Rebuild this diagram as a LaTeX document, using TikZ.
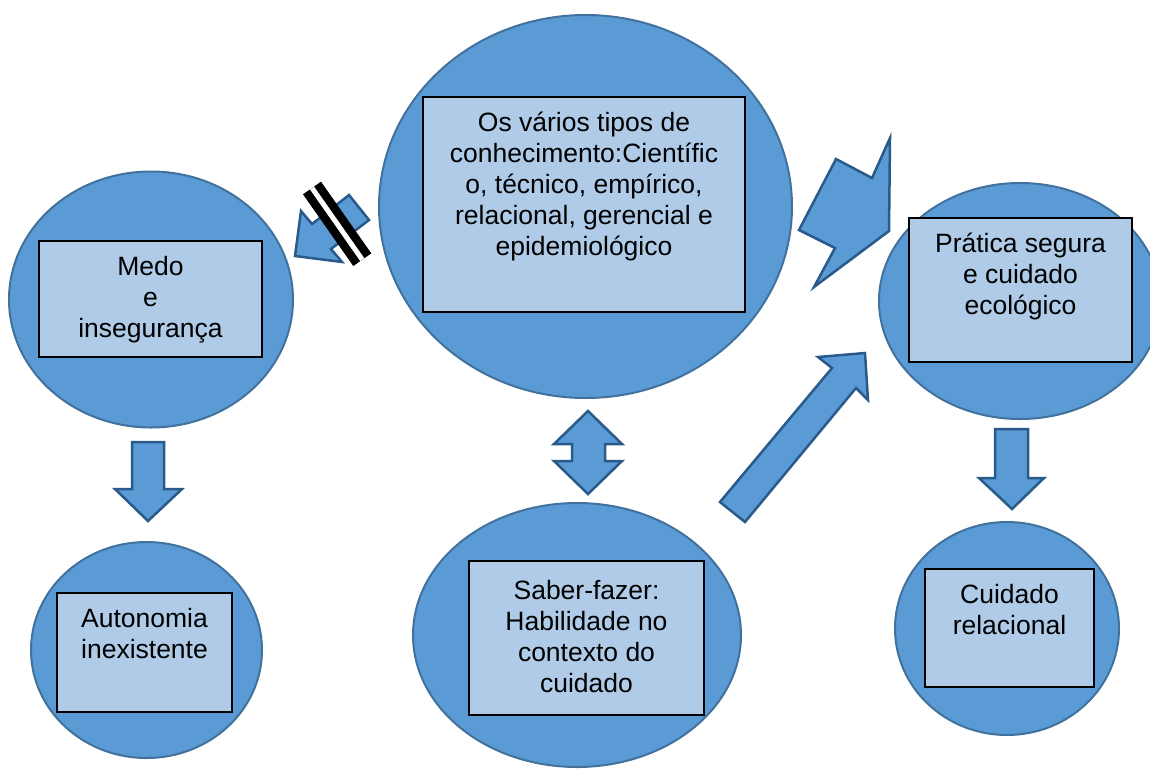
\documentclass[tikz,border=0pt]{standalone}
\usepackage{fontspec}
\setmainfont{Liberation Sans}
\usepackage{tikz}
\usetikzlibrary{shapes.geometric}
\definecolor{bubblefill}{HTML}{5B9BD5}
\definecolor{bubbleline}{HTML}{41719C}
\definecolor{boxfill}{HTML}{AFCBE8}
\definecolor{arrowline}{HTML}{2A5A8A}

\begin{document}
\begin{tikzpicture}[x=1pt, y=-1pt,
        bubble/.style={ellipse, fill=bubblefill, draw=bubbleline, line width=2pt, inner sep=0pt},
        box/.style={rectangle, fill=boxfill, draw=black, line width=2.5pt, inner sep=0pt},
        caption/.style={align=center, inner sep=0pt, anchor=north, font=\fontsize{26.5}{31}\selectfont},
        blockarrow/.style={fill=bubblefill, draw=arrowline, line width=2.5pt, line join=miter}]
        \useasboundingbox (0,0) rectangle (1150,769);

        \node[bubble, minimum width=284, minimum height=256] (medo) at (151,299.5) {};
        \node[bubble, minimum width=413, minimum height=383] (tipos) at (585.5,206.5) {};
        \node[bubble, minimum width=282, minimum height=236] (pratica) at (1020,301) {};
        \node[bubble, minimum width=231, minimum height=216] (autonomia) at (146.5,650) {};
        \node[bubble, minimum width=328, minimum height=264] (saber) at (577,635) {};
        \node[bubble, minimum width=224, minimum height=213] (cuidado) at (1007,628.5) {};

        \node[box, minimum width=223, minimum height=116] (medobox) at (150.5,299) {};
        \node[box, minimum width=322, minimum height=215] (tiposbox) at (584,204.5) {};
        \node[box, minimum width=223, minimum height=144] (praticabox) at (1020.5,290) {};
        \node[box, minimum width=175, minimum height=119] (autonomiabox) at (144.5,652.5) {};
        \node[box, minimum width=235, minimum height=154] (saberbox) at (586.5,638) {};
        \node[box, minimum width=169, minimum height=118] (cuidadobox) at (1009.5,628) {};

        \node[caption] (medotxt) at ([yshift=-14pt]medobox.north) {\strut Medo\\e\\insegurança};
        \node[caption] (tipostxt) at ([yshift=-14pt]tiposbox.north) {\strut Os vários tipos de\\conhecimento:Científic\\o, técnico, empírico,\\relacional, gerencial e\\epidemiológico};
        \node[caption] (praticatxt) at ([yshift=-14pt]praticabox.north) {\strut Prática segura\\e cuidado\\ecológico};
        \node[caption] (autonomiatxt) at ([yshift=-14pt]autonomiabox.north) {\strut Autonomia\\inexistente};
        \node[caption] (sabertxt) at ([yshift=-18pt]saberbox.north) {\strut Saber-fazer:\\Habilidade no\\contexto do\\cuidado};
        \node[caption] (cuidadotxt) at ([yshift=-14pt]cuidadobox.north) {\strut Cuidado\\relacional};

        % block arrows
        \filldraw[blockarrow] (295,256) -- (301,211) -- (312,224) -- (349,195) -- (369,220) -- (331,249) -- (342,262) -- cycle;
        \draw[line width=22pt, black] (312,188) -- (362.3,259.7);
        \draw[line width=5pt, white] (312,188) -- (362.3,259.7);
        \filldraw[blockarrow] (890,138) -- (872,178) -- (836,159) -- (799,230) -- (835,248) -- (814,287) -- (889,231) -- cycle;
        \filldraw[blockarrow] (588,411) -- (622,444) -- (605,444) -- (605,461) -- (622,461) -- (588,494) -- (554,461) -- (572,461) -- (572,444) -- (554,444) -- cycle;
        \filldraw[blockarrow] (865,353) -- (868,400) -- (856,388) -- (745,522) -- (720,502) -- (832,368) -- (818,357) -- cycle;
        \filldraw[blockarrow] (132,442) -- (164,442) -- (164,489) -- (182,489) -- (148,521) -- (115,489) -- (132,489) -- cycle;
        \filldraw[blockarrow] (995,429) -- (1028,429) -- (1028,478) -- (1044,478) -- (1012,509) -- (979,478) -- (995,478) -- cycle;
\end{tikzpicture}
\end{document}
